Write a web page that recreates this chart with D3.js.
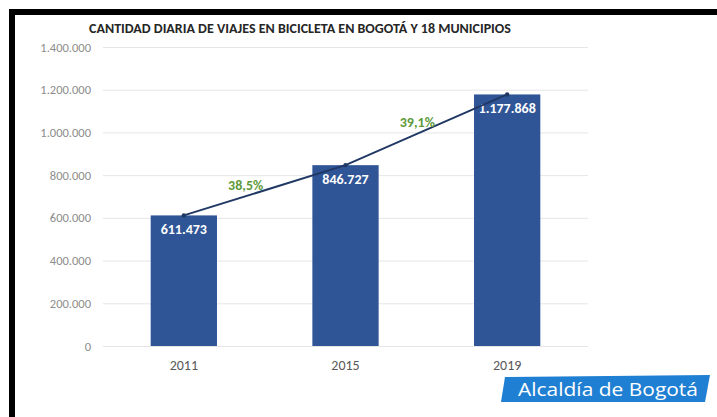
<!DOCTYPE html>
<html>
<head>
<meta charset="utf-8">
<script src="https://cdn.jsdelivr.net/npm/d3@7"></script>
<style>
  body { margin: 0; background: #fff; }
  svg { display: block; font-family: Calibri, Carlito, "Liberation Sans", "Open Sans", sans-serif; }
</style>
</head>
<body>
<div id="chart"></div>
<script>
// data
var years = ["2011", "2015", "2019"];
var trips = [611473, 846727, 1177868];
var growth = ["38,5%", "39,1%"];
var yTicks = [0, 200000, 400000, 600000, 800000, 1000000, 1200000, 1400000];

var width = 717, height = 417;
var margin = { top: 47, right: 129, bottom: 71, left: 103 };

// nudges for the growth labels, relative to the middle of the segment
var growthNudge = [[-19, -5], [-9, -8]];

var svg = d3.select("#chart")
  .append("svg")
  .attr("width", width)
  .attr("height", height);

// black frame of the screenshot (top and left)
svg.append("rect").attr("x", 9).attr("y", 9).attr("width", width - 9).attr("height", 6).attr("fill", "#000");
svg.append("rect").attr("x", 9).attr("y", 9).attr("width", 6).attr("height", height - 9).attr("fill", "#000");

var fmt = d3.formatLocale({ decimal: ",", thousands: ".", grouping: [3], currency: ["", ""] }).format(",.0f");

var x = d3.scaleBand()
  .domain(years)
  .range([margin.left, width - margin.right])
  .paddingInner(0.59)
  .paddingOuter(0.295);

var y = d3.scaleLinear()
  .domain([0, 1400000])
  .range([height - margin.bottom, margin.top]);

// title
svg.append("text")
  .attr("x", 300)
  .attr("y", 33)
  .attr("text-anchor", "middle")
  .style("font-size", "14px")
  .style("font-weight", "bold")
  .style("fill", "#262626")
  .text("CANTIDAD DIARIA DE VIAJES EN BICICLETA EN BOGOTÁ Y 18 MUNICIPIOS");

// y axis with gridlines
var yAxis = d3.axisLeft(y)
  .tickValues(yTicks)
  .tickSize(-(width - margin.left - margin.right))
  .tickPadding(12)
  .tickFormat(fmt);

var gy = svg.append("g")
  .attr("transform", `translate(${margin.left},0)`)
  .call(yAxis);
gy.select(".domain").remove();
gy.selectAll(".tick line").attr("stroke", "#e6e6e6").attr("stroke-width", 1);
gy.selectAll(".tick text")
  .style("font-size", "12.5px")
  .style("fill", "#8c8c8c")
  .style("font-family", "Calibri, Carlito, 'Liberation Sans', sans-serif");

// x axis labels
var xAxis = d3.axisBottom(x).tickSize(0).tickPadding(14);
var gx = svg.append("g")
  .attr("transform", `translate(0,${y(0)})`)
  .call(xAxis);
gx.select(".domain").remove();
gx.selectAll(".tick text")
  .style("font-size", "14px")
  .style("font-family", "Calibri, Carlito, 'Liberation Sans', sans-serif")
  .style("fill", "#595959");

var rows = years.map((d, i) => ({ year: d, value: trips[i] }));

// bars
svg.selectAll("rect.bar")
  .data(rows)
  .enter()
  .append("rect")
  .attr("class", "bar")
  .attr("x", d => x(d.year))
  .attr("y", d => y(d.value))
  .attr("width", x.bandwidth())
  .attr("height", d => y(0) - y(d.value))
  .attr("fill", "#2f5597");

// value labels inside bars
svg.selectAll("text.valueLabel")
  .data(rows)
  .enter()
  .append("text")
  .attr("class", "valueLabel")
  .attr("x", d => x(d.year) + x.bandwidth() / 2)
  .attr("y", d => y(d.value) + 19)
  .attr("text-anchor", "middle")
  .style("font-size", "14px")
  .style("font-weight", "bold")
  .style("fill", "#ffffff")
  .text(d => fmt(d.value));

// trend line across bar tops
var line = d3.line()
  .x(d => x(d.year) + x.bandwidth() / 2)
  .y(d => y(d.value));

svg.append("path")
  .datum(rows)
  .attr("d", line)
  .attr("fill", "none")
  .attr("stroke", "#203864")
  .attr("stroke-width", 2);

svg.selectAll("circle.dot")
  .data(rows)
  .enter()
  .append("circle")
  .attr("class", "dot")
  .attr("cx", d => x(d.year) + x.bandwidth() / 2)
  .attr("cy", d => y(d.value))
  .attr("r", 2.2)
  .attr("fill", "#203864");

// growth labels between bars
svg.selectAll("text.growth")
  .data(growth)
  .enter()
  .append("text")
  .attr("class", "growth")
  .attr("x", (d, i) => (x(years[i]) + x(years[i + 1])) / 2 + x.bandwidth() / 2 + growthNudge[i][0])
  .attr("y", (d, i) => (y(trips[i]) + y(trips[i + 1])) / 2 + growthNudge[i][1] + 5)
  .attr("text-anchor", "middle")
  .style("font-size", "14px")
  .style("font-weight", "bold")
  .style("fill", "#5e9a3a")
  .text(d => d);

// Alcaldía logo
svg.append("path")
  .attr("d", "M505,377 L710,375 L705,402 L501,402 Z")
  .attr("fill", "#1f7fd2");

svg.append("text")
  .attr("x", 518)
  .attr("y", 396)
  .attr("textLength", 180)
  .attr("lengthAdjust", "spacingAndGlyphs")
  .style("font-family", "'Open Sans', 'Liberation Sans', sans-serif")
  .style("font-size", "18px")
  .style("fill", "#ffffff")
  .text("Alcaldía de Bogotá");
</script>
</body>
</html>
